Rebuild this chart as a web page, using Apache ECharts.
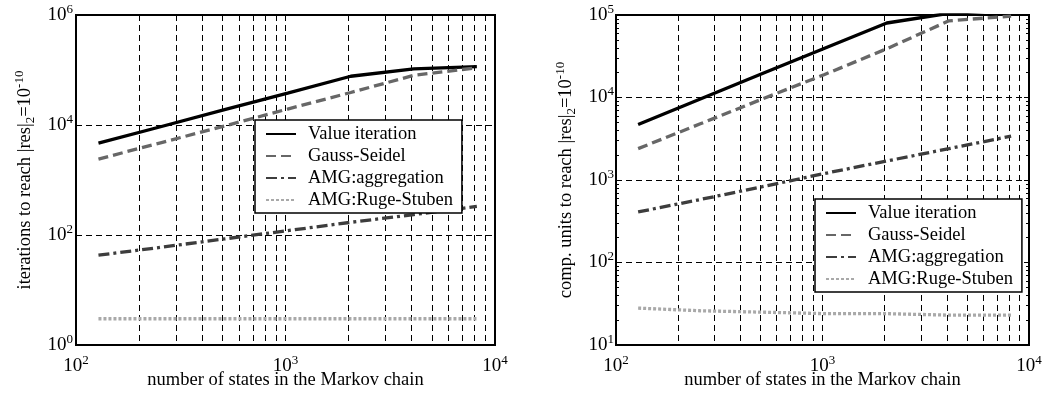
<!DOCTYPE html>
<html>
<head>
<meta charset="utf-8">
<script src="https://cdn.jsdelivr.net/npm/echarts@6/dist/echarts.min.js"></script>
<style>
  html, body { margin: 0; padding: 0; background: #fff; }
  #chart { width: 1050px; height: 396px; }
</style>
</head>
<body>
<div id="chart"></div>
<script>
// Problem sizes (number of states)
const states = [128, 256, 512, 1024, 2048, 4096, 8192];
const methodNames = ['Value iteration', 'Gauss-Seidel', 'AMG:aggregation', 'AMG:Ruge-Stuben'];

// Iterations needed to reach |res|_2 = 1e-10
const iterValue = [4700, 9400, 19000, 38000, 77000, 105000, 115000];
const iterGauss = [2400, 4800, 9600, 19500, 39000, 80000, 110000];
const iterAggr  = [43, 60, 85, 120, 170, 235, 330];
const iterRuge  = [3, 3, 3, 3, 3, 3, 3];

// Computational units needed to reach |res|_2 = 1e-10
const unitValue = [4700, 9600, 19500, 39500, 80000, 105000, 115000];
const unitGauss = [2400, 4800, 9600, 19000, 39000, 85000, 97000];
const unitAggr  = [410, 580, 830, 1200, 1700, 2400, 3400];
const unitRuge  = [28, 26, 25, 24, 24, 23, 23];

const serif = '"Liberation Serif", "Times New Roman", serif';

const lineStyles = [
  { color: '#000000', width: 3.3, type: 'solid' },
  { color: '#676767', width: 3.3, type: [10, 5] },
  { color: '#3d3d3d', width: 3.3, type: [11, 4, 3, 4] },
  { color: '#a9a9a9', width: 3.3, type: [3, 2] }
];

const gridDash = { color: '#000', width: 1, type: [6, 4] };

function pow10Label(v) {
  const e = Math.round(Math.log10(v));
  return '{b|10}{s|' + e + '}';
}
const powRich = {
  b: { fontFamily: serif, fontSize: 19, color: '#000', lineHeight: 24 },
  s: { fontFamily: serif, fontSize: 13, color: '#000', lineHeight: 17, verticalAlign: 'top' }
};
const nameRich = {
  sub: { fontFamily: serif, fontSize: 13, color: '#000', lineHeight: 13, verticalAlign: 'bottom' },
  sup: { fontFamily: serif, fontSize: 13, color: '#000', lineHeight: 17, verticalAlign: 'top' }
};
const nameText = { fontFamily: serif, fontSize: 18.5, color: '#000', lineHeight: 24, rich: nameRich };

function xAxisFor(gridIndex) {
  return {
    type: 'log', gridIndex, min: 100, max: 10000, logBase: 10,
    name: 'number of states in the Markov chain',
    nameLocation: 'middle', nameGap: 23, nameMoveOverlap: false, nameTextStyle: nameText,
    axisLine: { show: false },
    axisTick: { show: false },
    axisLabel: { formatter: pow10Label, rich: powRich, margin: 9 },
    splitLine: { show: true, lineStyle: gridDash },
    minorTick: { show: false, splitNumber: 9 },
    minorSplitLine: { show: true, lineStyle: gridDash }
  };
}

function seriesFor(xi, yi, arrays) {
  return arrays.map((arr, k) => ({
    name: methodNames[k],
    type: 'line',
    xAxisIndex: xi, yAxisIndex: yi,
    data: states.map((s, i) => [s, arr[i]]),
    showSymbol: false, symbol: 'none',
    lineStyle: lineStyles[k],
    itemStyle: { color: lineStyles[k].color },
    clip: true,
    z: 3
  }));
}

function legendFor(left, top) {
  return {
    left, top, orient: 'vertical',
    data: methodNames,
    itemWidth: 30, itemHeight: 14, itemGap: 0,
    padding: [3, 9, 2, 10],
    backgroundColor: '#fff',
    borderColor: '#000', borderWidth: 1.5,
    selectedMode: false,
    itemStyle: { opacity: 0 },
    textStyle: { fontFamily: serif, fontSize: 18.5, color: '#000', lineHeight: 22, padding: [0, 0, 0, 7] },
    z: 10
  };
}

const gridBase = {
  top: 15, bottom: 51, show: true,
  borderColor: '#000', borderWidth: 2, backgroundColor: 'transparent',
  containLabel: false, outerBoundsMode: 'none'
};

const chart = echarts.init(document.getElementById('chart'), null, { renderer: 'canvas' });
chart.setOption({
  animation: false,
  backgroundColor: '#fff',
  grid: [
    Object.assign({ left: 76, right: 555 }, gridBase),
    Object.assign({ left: 616, right: 21 }, gridBase)
  ],
  xAxis: [xAxisFor(0), xAxisFor(1)],
  yAxis: [
    {
      type: 'log', gridIndex: 0, min: 1, max: 1e6, interval: 2,
      name: 'iterations to reach |res|{sub|2}=10{sup|-10}',
      nameLocation: 'middle', nameGap: 39, nameTextStyle: nameText,
      axisLine: { show: false }, axisTick: { show: false },
      axisLabel: { formatter: pow10Label, rich: powRich, margin: 3 },
      splitLine: { show: true, lineStyle: gridDash }
    },
    {
      type: 'log', gridIndex: 1, min: 10, max: 1e5,
      name: 'comp. units to reach |res|{sub|2}=10{sup|-10}',
      nameLocation: 'middle', nameGap: 38, nameTextStyle: nameText,
      axisLine: { show: false },
      axisTick: { show: true, inside: true, length: 5, lineStyle: { color: '#000', width: 1 } },
      minorTick: { show: true, splitNumber: 9, length: 3, lineStyle: { color: '#000', width: 1 } },
      axisLabel: { formatter: pow10Label, rich: powRich, margin: 2 },
      splitLine: { show: true, lineStyle: gridDash }
    },
    {
      type: 'log', gridIndex: 1, min: 10, max: 1e5, position: 'right',
      axisLine: { show: false },
      axisTick: { show: true, inside: true, length: 5, lineStyle: { color: '#000', width: 1 } },
      minorTick: { show: true, splitNumber: 9, length: 3, lineStyle: { color: '#000', width: 1 } },
      axisLabel: { show: false },
      splitLine: { show: false }
    }
  ],
  legend: [legendFor(255, 120), legendFor(815, 199)],
  series: [
    ...seriesFor(0, 0, [iterValue, iterGauss, iterAggr, iterRuge]),
    ...seriesFor(1, 1, [unitValue, unitGauss, unitAggr, unitRuge])
  ]
});
</script>
</body>
</html>
